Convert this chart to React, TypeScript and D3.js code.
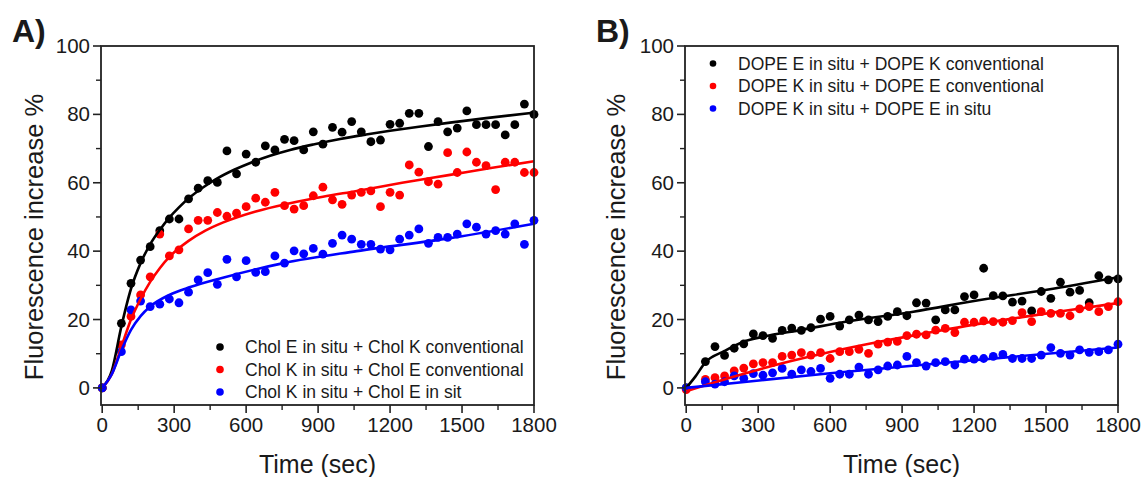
import React from 'react';
import * as d3 from 'd3';

// ---------- DATA ----------
const times = [0, 80, 120, 160, 200, 240, 280, 320, 360, 400, 440, 480, 520, 560, 600, 640, 680, 720, 760, 800, 840, 880, 920, 960, 1000, 1040, 1080, 1120, 1160, 1200, 1240, 1280, 1320, 1360, 1400, 1440, 1480, 1520, 1560, 1600, 1640, 1680, 1720, 1760, 1800];

// Panel A
const cholEinK = [0, 18.9, 30.6, 37.4, 41.3, 46, 49.4, 49.4, 55.3, 58.4, 60.6, 60.1, 69.3, 62.6, 68.4, 66.0, 70.8, 69.6, 72.7, 72.3, 69.6, 74.9, 71.3, 76.2, 74.8, 77.9, 74.9, 72.0, 72.5, 77.1, 77.4, 80.3, 80.3, 70.6, 77.9, 74.9, 76, 81, 77, 77, 77, 74, 77, 83, 80];
const cholKinE = [0, 12.6, 20.9, 27.2, 32.5, 45, 38.6, 40.4, 46.5, 49.0, 49.0, 51.3, 50.2, 51.1, 53.0, 55.5, 54.3, 57.2, 53.3, 52.3, 53.3, 56.2, 58.7, 55.0, 53.7, 56.4, 57.2, 57.6, 53.0, 57.2, 56.4, 65.2, 63.1, 60.3, 59.6, 68.8, 63, 69, 66, 65, 58, 66, 66, 63, 63];
const cholKinEin = [0, 10.6, 22.8, 25.4, 23.8, 24.5, 26.0, 24.9, 28.0, 31.6, 33.7, 30.3, 37.6, 32.5, 37.2, 33.8, 34.0, 38.6, 36.5, 40.1, 39.2, 40.8, 39.1, 42.3, 44.7, 43.5, 42.0, 42.0, 40.6, 40.4, 43.5, 44.7, 46.5, 42.3, 44.0, 44.0, 45, 48, 47, 45, 46, 45, 48, 42, 49];

const fitA_black: [number, number][] = [[0, 0], [40, 5], [80, 18], [120, 29], [160, 36.5], [200, 42], [240, 46.2], [280, 49.8], [320, 52.8], [367, 55.8], [420, 58.6], [478, 61.2], [550, 63.8], [617, 65.8], [700, 67.9], [783, 69.6], [880, 71.2], [992, 72.8], [1100, 74.1], [1200, 75.2], [1320, 76.4], [1450, 77.6], [1600, 78.9], [1800, 80.5]];
const fitA_red: [number, number][] = [[0, 0], [40, 4], [80, 12], [120, 20], [160, 26], [200, 31], [240, 35], [280, 38.3], [360, 43], [430, 46], [505, 48.4], [640, 51.6], [783, 54], [920, 55.9], [1061, 57.6], [1250, 60], [1450, 62.3], [1620, 64.3], [1800, 66.3]];
const fitA_blue: [number, number][] = [[0, 0], [40, 4], [80, 11], [120, 17], [160, 21], [200, 23.8], [280, 27.2], [367, 29.5], [507, 32.3], [756, 36.5], [1061, 40], [1450, 43.8], [1800, 48]];

// Panel B
const dopeEinK = [0, 7.7, 12.1, 9.5, 11.6, 12.9, 15.8, 15.3, 14.5, 16.8, 17.5, 16.8, 17.6, 20.1, 20.9, 18.1, 19.9, 21.3, 19.9, 19.4, 20.9, 22.3, 21.1, 24.9, 24.8, 19.9, 22.8, 22.8, 26.7, 27.2, 35.0, 27.0, 26.9, 25.1, 25.4, 22.5, 28.2, 26.2, 30.9, 28.0, 28.5, 24.9, 32.8, 31.6, 31.9];
const dopeKinE = [-0.5, 2.5, 3.0, 3.5, 5.0, 5.8, 7.0, 7.4, 7.4, 9.2, 9.6, 10.3, 9.6, 10.3, 8.6, 10.6, 10.6, 11.3, 10.1, 12.8, 13.4, 13.6, 15.3, 15.7, 15.5, 16.9, 17.4, 16.2, 19.2, 19.2, 19.6, 19.4, 19.2, 19.7, 22.0, 19.4, 22.3, 21.8, 21.8, 21.1, 23.1, 23.8, 22.3, 23.8, 25.2];
const dopeKinEin = [0, 1.8, 1.1, 1.8, 3.5, 2.8, 4.2, 3.7, 4.4, 5.7, 4.0, 5.3, 4.8, 5.7, 2.8, 4.0, 4.0, 6.1, 4.0, 5.3, 6.4, 6.7, 9.2, 7.4, 6.4, 7.4, 7.7, 6.7, 8.4, 8.4, 8.6, 9.2, 9.8, 8.6, 8.6, 8.6, 9.6, 11.8, 10.1, 9.6, 11.1, 10.4, 10.6, 11.1, 12.8];

const fitB_black: [number, number][] = [[0, 0], [38, 3.3], [79, 7.4], [160, 10.8], [239, 13.5], [322, 15.0], [475, 16.9], [669, 19.4], [947, 22.3], [1225, 25.7], [1503, 28.7], [1800, 32.4]];
const fitB_red: [number, number][] = [[0, -1], [200, 3.3], [400, 7.2], [600, 10.5], [800, 13.4], [1000, 16], [1200, 18.5], [1400, 20.7], [1600, 22.8], [1800, 24.8]];
const fitB_blue: [number, number][] = [[0, 0], [600, 4.3], [1200, 8.1], [1800, 11.8]];

const legendA = ['Chol E in situ + Chol K conventional', 'Chol K in situ + Chol E conventional', 'Chol K in situ + Chol E in sit'];
const legendB = ['DOPE E in situ + DOPE K conventional', 'DOPE K in situ + DOPE E conventional', 'DOPE K in situ + DOPE E in situ'];
const colors = ['#000000', '#ff0000', '#0000ff'];

const xMajor = [0, 300, 600, 900, 1200, 1500, 1800];
const xMinor = [150, 450, 750, 1050, 1350, 1650];
const yMajor = [0, 20, 40, 60, 80, 100];
const yMinor = [10, 30, 50, 70, 90];

const FONT = 'Liberation Sans, Arial, Helvetica, sans-serif';
const TXT = '#1a1a1a';

type PanelProps = {
  left: number;
  right: number;
  tag: string;
  tagX: number;
  ylabelX: number;
  series: number[][];
  fits: [number, number][][];
  legend: string[];
  legendX: number;
  legendY: number[];
  legendR: number;
};

function Panel(p: PanelProps) {
  const top = 46;
  const bottom = 405;
  const x = d3.scaleLinear().domain([-5, 1800]).range([p.left, p.right]);
  const y = d3.scaleLinear().domain([-5, 100]).range([bottom, top]);
  const line = d3
    .line<[number, number]>()
    .x((d) => x(d[0]))
    .y((d) => y(d[1]))
    .curve(d3.curveMonotoneX);
  const ax = '#222';
  return (
    <g>
      <text x={p.tagX} y={42} fontSize={32} fontWeight="bold" fill={TXT}>
        {p.tag}
      </text>
      {p.series.map((s, si) => (
        <g key={'s' + si}>
          {s.map((v, i) => (
            <circle key={i} cx={x(times[i])} cy={y(v)} r={4.4} fill={colors[si]} />
          ))}
        </g>
      ))}
      {p.fits.map((f, fi) => (
        <path key={'f' + fi} d={line(f) || ''} fill="none" stroke={colors[fi]} strokeWidth={2.6} />
      ))}
      <rect x={p.left} y={top} width={p.right - p.left} height={bottom - top} fill="none" stroke={ax} strokeWidth={1.8} />
      {yMajor.map((v) => (
        <g key={'ym' + v}>
          <line x1={p.left - 8} x2={p.left} y1={y(v)} y2={y(v)} stroke={ax} strokeWidth={1.6} />
          <text x={p.left - 11} y={y(v) + 7} fontSize={20.5} textAnchor="end" fill={TXT}>
            {v}
          </text>
        </g>
      ))}
      {yMinor.map((v) => (
        <line key={'yn' + v} x1={p.left - 5} x2={p.left} y1={y(v)} y2={y(v)} stroke={ax} strokeWidth={1.4} />
      ))}
      {xMajor.map((t) => (
        <g key={'xm' + t}>
          <line x1={x(t)} x2={x(t)} y1={bottom} y2={bottom + 8} stroke={ax} strokeWidth={1.6} />
          <text x={x(t)} y={432} fontSize={20.5} textAnchor="middle" fill={TXT}>
            {t}
          </text>
        </g>
      ))}
      {xMinor.map((t) => (
        <line key={'xn' + t} x1={x(t)} x2={x(t)} y1={bottom} y2={bottom + 5} stroke={ax} strokeWidth={1.4} />
      ))}
      <text x={(p.left + p.right) / 2} y={473} fontSize={25} textAnchor="middle" fill={TXT}>
        Time (sec)
      </text>
      <text
        transform={`translate(${p.ylabelX},${237}) rotate(-90)`}
        fontSize={25.5}
        textAnchor="middle"
        fill={TXT}
      >
        Fluorescence increase %
      </text>
      {p.legend.map((l, i) => (
        <g key={'l' + i}>
          <circle cx={p.legendX} cy={p.legendY[i]} r={p.legendR} fill={colors[i]} />
          <text x={p.legendX + 25} y={p.legendY[i] + 6.3} fontSize={17.5} fill={TXT}>
            {l}
          </text>
        </g>
      ))}
    </g>
  );
}

export default function App() {
  return (
    <svg
      width={1143}
      height={477}
      style={{ position: 'absolute', left: 0, top: 0, background: '#fff' }}
      fontFamily={FONT}
    >
      <rect x={0} y={0} width={1143} height={477} fill="#fff" />
      <Panel
        left={101}
        right={534}
        tag="A)"
        tagX={12}
        ylabelX={43}
        series={[cholEinK, cholKinE, cholKinEin]}
        fits={[fitA_black, fitA_red, fitA_blue]}
        legend={legendA}
        legendX={220}
        legendY={[347, 369.5, 392]}
        legendR={3.8}
      />
      <Panel
        left={685}
        right={1118}
        tag="B)"
        tagX={596}
        ylabelX={625}
        series={[dopeEinK, dopeKinE, dopeKinEin]}
        fits={[fitB_black, fitB_red, fitB_blue]}
        legend={legendB}
        legendX={713}
        legendY={[63.5, 86, 108.5]}
        legendR={3.3}
      />
    </svg>
  );
}
